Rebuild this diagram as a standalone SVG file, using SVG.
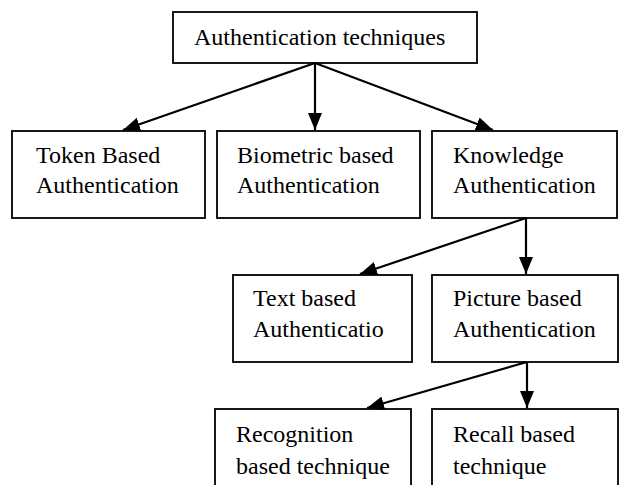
<svg xmlns="http://www.w3.org/2000/svg" width="619" height="485" viewBox="0 0 619 485">
<style>
.box{fill:#fff;stroke:#000;stroke-width:1.8}
.t{font-family:"Liberation Serif","Times New Roman",serif;font-size:24px;fill:#000}
.c{stroke:#000;stroke-width:2.2;fill:none}
</style>
<defs>
<marker id="ah" markerUnits="userSpaceOnUse" markerWidth="17" markerHeight="14" refX="17" refY="7" orient="auto">
<path d="M0,0 L17,7 L0,14 Z" fill="#000"/>
</marker>
</defs>
<rect width="619" height="485" fill="#fff"/>
<g id="root"><rect class="box" x="173" y="12" width="304" height="51"/><text class="t" x="194" y="45">Authentication techniques</text></g>
<g id="token"><rect class="box" x="12" y="131" width="193" height="87"/><text class="t" x="36" y="163">Token Based</text><text class="t" x="36" y="193">Authentication</text></g>
<g id="biometric"><rect class="box" x="217" y="131" width="203" height="87"/><text class="t" x="237" y="163">Biometric based</text><text class="t" x="237" y="193">Authentication</text></g>
<g id="knowledge"><rect class="box" x="432" y="131" width="185" height="87"/><text class="t" x="453" y="163">Knowledge</text><text class="t" x="453" y="193">Authentication</text></g>
<g id="text"><rect class="box" x="233" y="275" width="179" height="87"/><text class="t" x="253" y="306">Text based</text><text class="t" x="253" y="337">Authenticatio</text></g>
<g id="picture"><rect class="box" x="432" y="275" width="186" height="87"/><text class="t" x="453" y="306">Picture based</text><text class="t" x="453" y="337">Authentication</text></g>
<g id="recognition"><rect class="box" x="215" y="409" width="196" height="90"/><text class="t" x="236" y="442">Recognition</text><text class="t" x="236" y="474">based technique</text></g>
<g id="recall"><rect class="box" x="432" y="409" width="186" height="90"/><text class="t" x="453" y="442">Recall based</text><text class="t" x="453" y="474">technique</text></g>
<g id="connectors">
<line class="c" x1="315" y1="63" x2="123" y2="130" marker-end="url(#ah)"/>
<line class="c" x1="315" y1="63" x2="315" y2="130" marker-end="url(#ah)"/>
<line class="c" x1="315" y1="63" x2="493" y2="130" marker-end="url(#ah)"/>
<line class="c" x1="526" y1="218" x2="360" y2="274" marker-end="url(#ah)"/>
<line class="c" x1="526" y1="218" x2="526" y2="274" marker-end="url(#ah)"/>
<line class="c" x1="527" y1="362" x2="367" y2="408" marker-end="url(#ah)"/>
<line class="c" x1="527" y1="362" x2="527" y2="408" marker-end="url(#ah)"/>
</g>
</svg>
